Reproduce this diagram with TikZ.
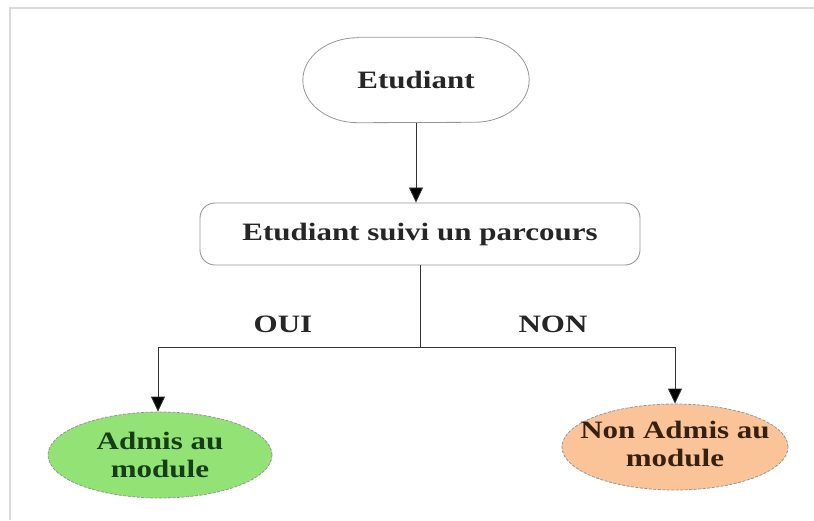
\documentclass[tikz,border=0pt]{standalone}
\usepackage{fontspec}
\setmainfont{Liberation Serif}[FakeStretch=1.24]
\usetikzlibrary{shapes.geometric,arrows.meta}
\definecolor{framec}{RGB}{218,218,218}
\definecolor{edgec}{RGB}{150,150,150}
\definecolor{okfill}{RGB}{146,226,118}
\definecolor{kofill}{RGB}{250,196,152}
\definecolor{oktext}{RGB}{22,62,22}
\definecolor{kotext}{RGB}{55,32,16}
\tikzset{
  lbl/.style={font=\fontsize{25}{28}\selectfont\bfseries, text=black!85, align=center, inner sep=0pt},
  boxshape/.style={draw=edgec, line width=0.9pt, rounded corners=15pt, minimum width=440pt, minimum height=62pt},
  outcome/.style={ellipse, draw=edgec, line width=0.8pt, dash pattern=on 3pt off 1.5pt, minimum width=224pt, minimum height=86pt, inner sep=0pt},
  link/.style={draw=black!80, line width=0.8pt},
  arrow/.style={link, -{Triangle[length=15pt,width=14pt,fill=black]}}
}
\begin{document}
\begin{tikzpicture}[x=1pt,y=-1pt]
\useasboundingbox (0,0) rectangle (814,520);
% page frame
\draw[framec, line width=2pt] (814,7.5) -- (9.5,7.5) -- (9.5,520);

% start node: stadium with elliptical caps
\node[lbl, minimum width=226pt, minimum height=85pt] (stu) at (416,80) {Etudiant};
\draw[edgec, line width=0.8pt]
  ([xshift=55pt]stu.north west) -- ([xshift=-55pt]stu.north east)
  arc[start angle=90, end angle=-90, x radius=55pt, y radius=42.5pt]
  -- ([xshift=55pt]stu.south west)
  arc[start angle=270, end angle=90, x radius=55pt, y radius=42.5pt] -- cycle;

% decision box
\node[boxshape, lbl] (par) at (420,234) {Etudiant suivi un parcours};

% outcomes
\node[outcome, fill=okfill] (adm) at (160,455) {};
\node[lbl, text=oktext] at (adm) {Admis au\\module};
\node[outcome, fill=kofill, minimum width=226pt] (nadm) at (675,447) {};
\node[lbl, text=kotext] at ([yshift=3pt]nadm.center) {Non Admis au\\module};

% branch labels
\node[lbl] (oui) at (283,324) {OUI};
\node[lbl] (non) at (553,324) {NON};

% connectors
\draw[arrow] (stu.south) -- (stu.south |- par.north);
\coordinate (split) at (420,347);
\coordinate (left) at (158,347);
\coordinate (right) at (675,347);
\draw[link] (par.south) -- (split);
\draw[link] (left) -- (right);
\draw[arrow] (left) -- (left |- adm.north);
\draw[arrow] (right) -- (nadm.north);
\end{tikzpicture}
\end{document}
